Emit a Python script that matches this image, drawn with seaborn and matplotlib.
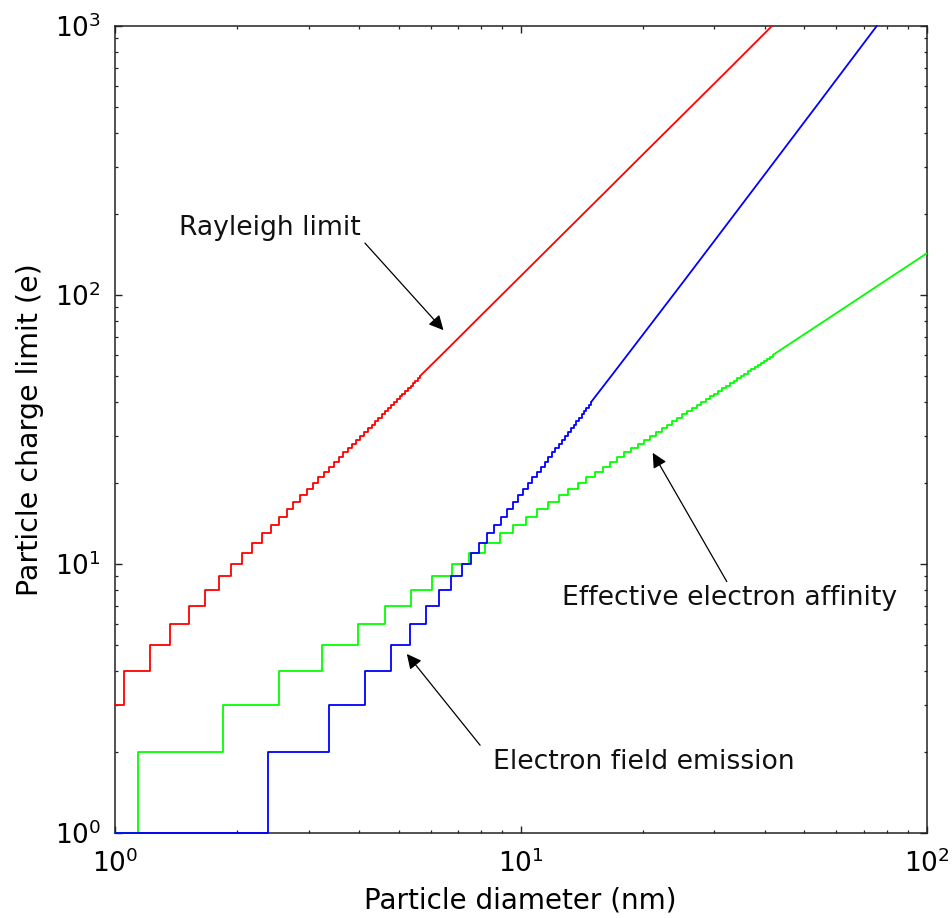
import numpy as np
import pandas as pd
import matplotlib
matplotlib.use("Agg")
import matplotlib.pyplot as plt
import seaborn as sns

# ---------------- data ----------------
# Rayleigh limit: staircase (diameter where each integer charge level starts)
red_step_d = [1.00, 1.05, 1.22, 1.37, 1.52, 1.67, 1.80, 1.93, 2.06, 2.18, 2.30,
              2.42, 2.53, 2.65, 2.75, 2.86, 2.97, 3.07, 3.17, 3.27, 3.37, 3.47,
              3.56, 3.65, 3.75, 3.84, 3.93, 4.02, 4.11, 4.20, 4.29, 4.37, 4.46,
              4.54, 4.63, 4.71, 4.79, 4.87, 4.95, 5.03, 5.11, 5.19, 5.27, 5.35,
              5.43, 5.50, 5.58, 5.65]
red_step_q = [3, 4, 5, 6, 7, 8, 9, 10, 11, 12, 13, 14, 15, 16, 17, 18, 19, 20,
              21, 22, 23, 24, 25, 26, 27, 28, 29, 30, 31, 32, 33, 34, 35, 36,
              37, 38, 39, 40, 41, 42, 43, 44, 45, 46, 47, 48, 49, 50]
# Rayleigh limit: fine-step part (steps too small to resolve)
red_line_d = [5.65, 6.5, 8.0, 10.0, 13.0, 16.0, 20.0, 25.0, 32.0, 41.6]
red_line_q = [50, 61.6, 84.2, 117.6, 174.4, 238.0, 333.0, 465.0, 673.0, 1000.0]

# Effective electron affinity
green_step_d = [1.00, 1.14, 1.85, 2.54, 3.24, 3.96, 4.64, 5.36, 6.06, 6.76, 7.47,
                8.17, 8.87, 9.58, 10.28, 10.98, 11.69, 12.39, 13.09, 13.80,
                14.50, 15.20, 15.91, 16.61, 17.31, 18.01, 18.72, 19.42, 20.12,
                20.83, 21.53, 22.23, 22.93, 23.64, 24.34, 25.04, 25.75, 26.45,
                27.16, 27.86, 28.56, 29.26, 29.97, 30.67, 31.37, 32.07, 32.78,
                33.48, 34.18, 34.89, 35.59, 36.29, 37.00, 37.70, 38.40, 39.10,
                39.81, 40.51, 41.21, 41.92]
green_step_q = [1, 2, 3, 4, 5, 6, 7, 8, 9, 10, 11, 12, 13, 14, 15, 16, 17, 18,
                19, 20, 21, 22, 23, 24, 25, 26, 27, 28, 29, 30, 31, 32, 33, 34,
                35, 36, 37, 38, 39, 40, 41, 42, 43, 44, 45, 46, 47, 48, 49, 50,
                51, 52, 53, 54, 55, 56, 57, 58, 59, 60]
green_line_d = [41.92, 50.0, 65.0, 80.0, 100.0]
green_line_q = [60, 71.5, 92.8, 114.2, 142.6]

# Electron field emission
blue_step_d = [1.00, 2.38, 3.37, 4.13, 4.78, 5.33, 5.84, 6.30, 6.74, 7.16, 7.54,
               7.91, 8.27, 8.60, 8.93, 9.24, 9.55, 9.84, 10.13, 10.41, 10.68,
               10.94, 11.20, 11.45, 11.70, 11.94, 12.17, 12.41, 12.63, 12.86,
               13.08, 13.29, 13.51, 13.71, 13.92, 14.12, 14.32, 14.52, 14.72,
               14.91]
blue_step_q = [1, 2, 3, 4, 5, 6, 7, 8, 9, 10, 11, 12, 13, 14, 15, 16, 17, 18,
               19, 20, 21, 22, 23, 24, 25, 26, 27, 28, 29, 30, 31, 32, 33, 34,
               35, 36, 37, 38, 39, 40]
blue_line_d = [14.91, 17.0, 20.0, 25.0, 30.0, 40.0, 55.0, 75.4]
blue_line_q = [40, 51.7, 71.2, 110.6, 158.9, 281.7, 531.7, 1000.0]

x_label = "Particle diameter (nm)"
y_label = "Particle charge limit (e)"
notes = ["Rayleigh limit", "Effective electron affinity", "Electron field emission"]

# ---------------- styling ----------------
sns.set_theme(style="ticks")
plt.rcParams["font.family"] = ["DejaVu Sans"]
plt.rcParams["mathtext.fontset"] = "dejavusans"

fig = plt.figure(figsize=(9.52, 9.18), dpi=100)
ax = fig.add_axes([115 / 952, 1 - 833 / 918, (926.5 - 115) / 952, (833 - 26) / 918])

lw = 1.3
series = [
    (red_step_d, red_step_q, red_line_d, red_line_q, "#ff0000"),
    (green_step_d, green_step_q, green_line_d, green_line_q, "#00ff00"),
    (blue_step_d, blue_step_q, blue_line_d, blue_line_q, "#0000ff"),
]
for sd, sq, ld, lq, col in series:
    df_s = pd.DataFrame({"d": sd, "q": sq})
    df_l = pd.DataFrame({"d": ld, "q": lq})
    sns.lineplot(data=df_s, x="d", y="q", ax=ax, color=col, lw=lw,
                 drawstyle="steps-post", estimator=None, sort=False,
                 clip_on=False, zorder=3)
    sns.lineplot(data=df_l, x="d", y="q", ax=ax, color=col, lw=lw,
                 estimator=None, sort=False, clip_on=False, zorder=3)

ax.set_xscale("log")
ax.set_yscale("log")
ax.set_xlim(1, 100)
ax.set_ylim(1, 1000)

for s in ax.spines.values():
    s.set_visible(True)
    s.set_color("#222222")
    s.set_linewidth(1.1)

ax.tick_params(which="both", direction="in", top=True, right=True,
               colors="#222222")
ax.tick_params(which="major", length=5, width=1.0, labelsize=19, pad=10,
               labelcolor="black")
ax.tick_params(which="minor", length=2.5, width=0.9)
ax.tick_params(axis="x", which="major", pad=12)

ax.set_xlabel(x_label, fontsize=20, labelpad=6, color="black")
ax.set_ylabel(y_label, fontsize=20.5, labelpad=8, color="black")

txt_kw = dict(fontsize=19.2, color="#111111", ha="center", va="center")
arrow_kw = dict(arrowstyle="-|>", color="black", lw=0.9,
                mutation_scale=22, shrinkA=0, shrinkB=0)

ax.text(2.41, 177, notes[0], **txt_kw)
ax.annotate("", xy=(6.45, 74), xytext=(4.13, 156), arrowprops=arrow_kw)

ax.text(32.7, 7.47, notes[1], **txt_kw)
ax.annotate("", xy=(21.15, 25.9), xytext=(32.2, 8.6), arrowprops=arrow_kw)

ax.text(20.1, 1.83, notes[2], **txt_kw)
ax.annotate("", xy=(5.24, 4.63), xytext=(7.94, 2.12), arrowprops=arrow_kw)

fig.savefig("out.png", dpi=100)
